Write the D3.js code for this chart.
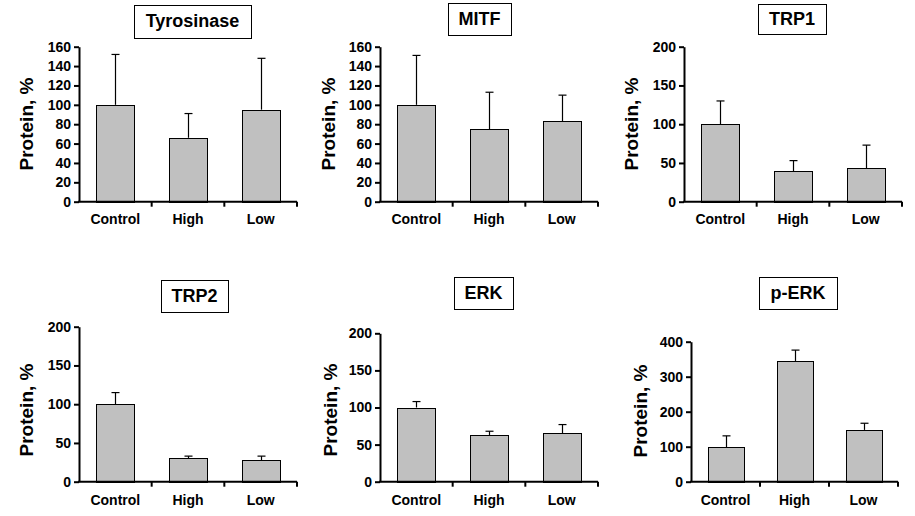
<!DOCTYPE html>
<html>
<head>
<meta charset="utf-8">
<script src="https://cdn.jsdelivr.net/npm/d3@7"></script>
<style>
  html, body { margin: 0; padding: 0; background: #fff; }
  svg { display: block; }
  text { font-family: Arial, "Liberation Sans", sans-serif; font-weight: bold; fill: #000; }
</style>
</head>
<body>
<svg id="chart" width="915" height="516"></svg>
<script>
// ---- data ----
const categories = ["Control", "High", "Low"];
const titles = ["Tyrosinase", "MITF", "TRP1", "TRP2", "ERK", "p-ERK"];
const yLabel = "Protein, %";

const tyrosinaseMean = [100, 66, 95];
const tyrosinaseErr  = [52, 25, 53];
const mitfMean = [100, 75, 83];
const mitfErr  = [51, 38, 27];
const trp1Mean = [100, 39, 43];
const trp1Err  = [30, 14, 30];
const trp2Mean = [100, 30, 28];
const trp2Err  = [15, 3, 5];
const erkMean = [100, 63, 65];
const erkErr  = [8, 5, 12];
const perkMean = [98, 345, 148];
const perkErr  = [33, 31, 19];

const yTicks160 = [0, 20, 40, 60, 80, 100, 120, 140, 160];
const yTicks200 = [0, 50, 100, 150, 200];
const yTicks400 = [0, 100, 200, 300, 400];

const means = [tyrosinaseMean, mitfMean, trp1Mean, trp2Mean, erkMean, perkMean];
const errs = [tyrosinaseErr, mitfErr, trp1Err, trp2Err, erkErr, perkErr];
const tickSets = [yTicks160, yTicks160, yTicks200, yTicks200, yTicks200, yTicks400];

// ---- layout (positions only) ----
const layout = [
  {x0: 79,  x1: 297, yTop: 46.7,  y0: 201.7, box: [134, 5, 251, 38],   lx: 28,  ly: 124, cy: 224},
  {x0: 380, x1: 598, yTop: 46.7,  y0: 201.7, box: [448, 3, 511, 35],   lx: 330, ly: 124, cy: 224},
  {x0: 684, x1: 902, yTop: 46.7,  y0: 201.7, box: [758, 4, 826, 34],   lx: 633, ly: 124, cy: 224},
  {x0: 79,  x1: 297, yTop: 326.7, y0: 481.7, box: [161, 280, 228, 312], lx: 28,  ly: 410, cy: 505},
  {x0: 380, x1: 598, yTop: 333.3, y0: 481.7, box: [454, 277, 513, 309], lx: 332, ly: 410, cy: 505},
  {x0: 691, x1: 898, yTop: 341.7, y0: 481.7, box: [759, 277, 837, 309], lx: 642, ly: 411, cy: 505}
];

const svg = d3.select("#chart");

titles.forEach((title, i) => {
  const L = layout[i];
  const ticks = tickSets[i];
  const g = svg.append("g");

  const x = d3.scaleBand().domain(categories).range([L.x0, L.x1])
    .paddingInner(0.48).paddingOuter(0.24);
  const y = d3.scaleLinear().domain([0, d3.max(ticks)]).range([L.y0, L.yTop]);

  // title box
  const [bx0, by0, bx1, by1] = L.box;
  g.append("rect").attr("x", bx0 + 0.5).attr("y", by0 + 0.5)
    .attr("width", bx1 - bx0).attr("height", by1 - by0)
    .attr("fill", "#fff").attr("stroke", "#000").attr("stroke-width", 1);
  g.append("text").attr("x", (bx0 + bx1) / 2).attr("y", (by0 + by1) / 2 + 1)
    .attr("text-anchor", "middle").attr("dominant-baseline", "middle")
    .attr("font-size", 18).text(title);

  // bars
  const data = categories.map((c, k) => ({c, m: means[i][k], e: errs[i][k]}));
  g.selectAll("rect.bar").data(data).join("rect").attr("class", "bar")
    .attr("x", d => Math.round(x(d.c)) + 0.5)
    .attr("y", d => Math.round(y(d.m)) + 0.5)
    .attr("width", Math.round(x.bandwidth()))
    .attr("height", d => Math.round(y(0)) - Math.round(y(d.m)))
    .attr("fill", "#c0c0c0").attr("stroke", "#000").attr("stroke-width", 1);

  // error bars (upper only)
  data.forEach(d => {
    const cx = Math.round(x(d.c) + x.bandwidth() / 2) + 0.5;
    g.append("line").attr("x1", cx).attr("x2", cx)
      .attr("y1", y(d.m)).attr("y2", y(d.m + d.e))
      .attr("stroke", "#000").attr("stroke-width", 1.2);
    g.append("line").attr("x1", cx - 4).attr("x2", cx + 4)
      .attr("y1", y(d.m + d.e)).attr("y2", y(d.m + d.e))
      .attr("stroke", "#000").attr("stroke-width", 1.2);
  });

  // y axis
  const yAxis = d3.axisLeft(y).tickValues(ticks).tickSize(5).tickSizeOuter(0).tickPadding(3);
  const ya = g.append("g").attr("transform", `translate(${L.x0},0)`).call(yAxis);
  ya.select(".domain").attr("stroke", "#000").attr("stroke-width", 2);
  ya.selectAll(".tick line").attr("stroke", "#000").attr("stroke-width", 2);
  ya.selectAll(".tick text").attr("font-size", 14).attr("font-family", "Arial, 'Liberation Sans', sans-serif")
    .attr("font-weight", "bold").attr("fill", "#000");

  // x axis
  const xAxis = d3.axisBottom(x).tickSize(0).tickPadding(0);
  const xa = g.append("g").attr("transform", `translate(0,${L.y0})`).call(xAxis);
  xa.select(".domain").remove();
  xa.selectAll(".tick text").attr("font-size", 14).attr("font-family", "Arial, 'Liberation Sans', sans-serif")
    .attr("font-weight", "bold").attr("fill", "#000")
    .attr("dy", null).attr("y", L.cy - L.y0);
  g.append("line").attr("x1", L.x0 - 1).attr("x2", L.x1).attr("y1", L.y0).attr("y2", L.y0)
    .attr("stroke", "#000").attr("stroke-width", 2);
  d3.range(1, categories.length + 1).forEach(k => {
    const bx = L.x0 + k * x.step() * (1) + (k === categories.length ? x.step() * x.paddingOuter() * 0 : 0);
  });
  // category boundary ticks
  const bounds = d3.range(1, categories.length + 1).map(k => x.range()[0] + k * (L.x1 - L.x0) / categories.length);
  g.selectAll("line.bt").data(bounds).join("line").attr("class", "bt")
    .attr("x1", d => d).attr("x2", d => d).attr("y1", L.y0).attr("y2", L.y0 + 5)
    .attr("stroke", "#000").attr("stroke-width", 2);

  // y label
  g.append("text").attr("transform", `translate(${L.lx},${L.ly}) rotate(-90)`)
    .attr("text-anchor", "middle").attr("dominant-baseline", "middle")
    .attr("font-size", 19).text(yLabel);
});
</script>
</body>
</html>
